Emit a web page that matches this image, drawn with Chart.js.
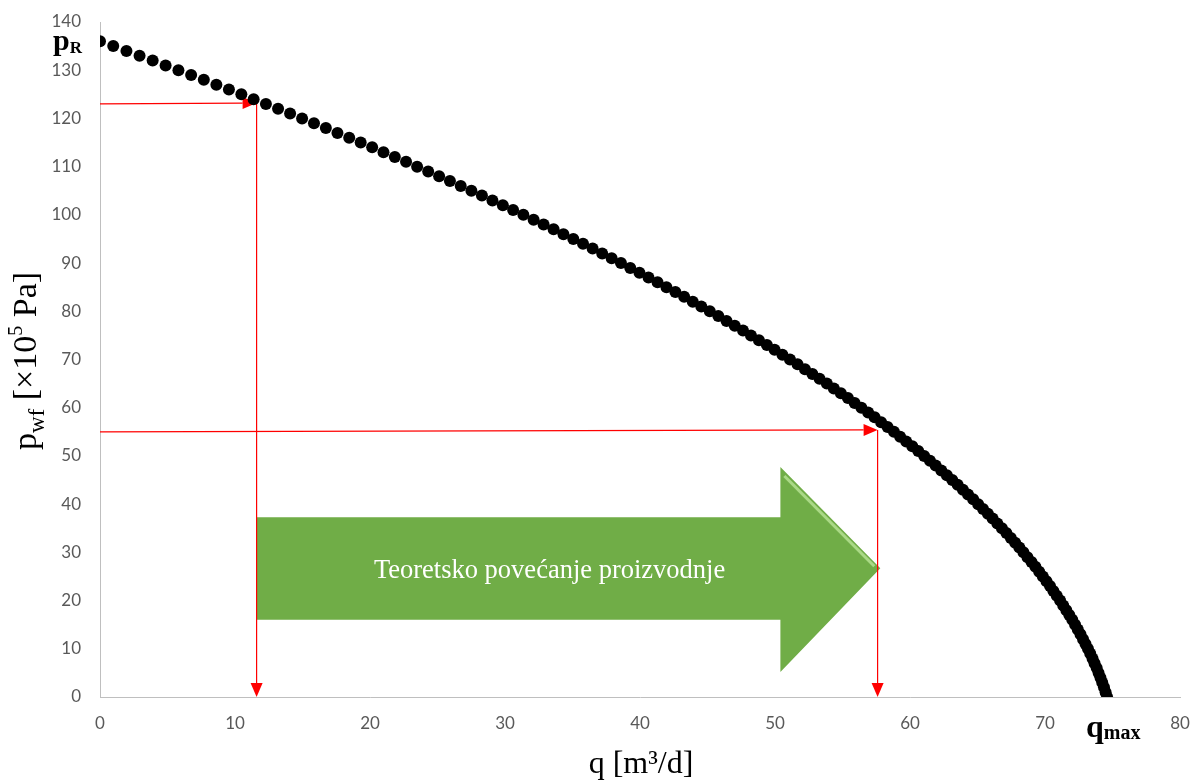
<!DOCTYPE html>
<html>
<head>
<meta charset="utf-8">
<script src="https://cdn.jsdelivr.net/npm/chart.js@4.4.1/dist/chart.umd.min.js"></script>
<style>
  html, body { margin: 0; padding: 0; background: #fff; }
  #wrap { width: 1194px; height: 782px; position: relative; }
</style>
</head>
<body>
<div id="wrap"><canvas id="chart"></canvas></div>
<script>
// bottom-hole flowing pressure p_wf [x10^5 Pa]
const pressures = [
  136,135,134,133,132,131,130,129,128,127,126,125,124,123,122,121,120,119,118,117,
  116,115,114,113,112,111,110,109,108,107,106,105,104,103,102,101,100,99,98,97,
  96,95,94,93,92,91,90,89,88,87,86,85,84,83,82,81,80,79,78,77,
  76,75,74,73,72,71,70,69,68,67,66,65,64,63,62,61,60,59,58,57,
  56,55,54,53,52,51,50,49,48,47,46,45,44,43,42,41,40,39,38,37,
  36,35,34,33,32,31,30,29,28,27,26,25,24,23,22,21,20,19,18,17,
  16,15,14,13,12,11,10,9,8,7,6,5,4,3,2,1,0
];
// production rate q [m3/d]
const rates = [
  0.00,0.98,1.96,2.93,3.90,4.86,5.81,6.75,7.69,8.62,9.55,10.47,11.38,12.29,13.19,14.08,14.97,15.85,16.73,17.59,
  18.46,19.31,20.16,21.00,21.84,22.67,23.49,24.31,25.12,25.92,26.72,27.51,28.29,29.07,29.84,30.60,31.36,32.12,32.86,33.60,
  34.33,35.06,35.78,36.49,37.20,37.90,38.59,39.28,39.96,40.63,41.30,41.96,42.62,43.27,43.91,44.54,45.17,45.80,46.41,47.02,
  47.63,48.22,48.81,49.40,49.97,50.55,51.11,51.67,52.22,52.77,53.30,53.84,54.36,54.88,55.40,55.90,56.40,56.90,57.38,57.86,
  58.34,58.81,59.27,59.72,60.17,60.61,61.05,61.48,61.90,62.32,62.73,63.13,63.53,63.92,64.30,64.68,65.05,65.41,65.77,66.12,
  66.47,66.81,67.14,67.47,67.79,68.10,68.40,68.70,69.00,69.29,69.57,69.84,70.11,70.37,70.62,70.87,71.12,71.35,71.58,71.80,
  72.02,72.23,72.43,72.63,72.82,73.00,73.18,73.35,73.52,73.67,73.83,73.97,74.11,74.24,74.37,74.49,74.60
];

const xRange = [0, 80];
const yRange = [0, 140];
const tickStep = 10;

// red read-off lines: start pressure, end pressure, rate
const readStartP = [123, 55];
const readEndP = [123.2, 55.4];
const readQ = [11.6, 57.6];

// green arrow (data units)
const gainBodyQ = [11.6, 50.4];
const gainBodyP = [16, 37.3];
const gainHeadP = [5.2, 47.7];
const gainTip = [57.8, 26.7];
const gainText = "Teoretsko povećanje proizvodnje";

const serif = "'Liberation Serif', 'Times New Roman', serif";

function drawRich(ctx, parts, x, y, align) {
  let total = 0;
  parts.forEach(p => { ctx.font = p.font; total += ctx.measureText(p.t).width; });
  let cx = align === "center" ? x - total / 2 : x;
  ctx.textAlign = "left";
  ctx.textBaseline = "alphabetic";
  parts.forEach(p => {
    ctx.font = p.font;
    ctx.fillText(p.t, cx, y + (p.dy || 0));
    cx += ctx.measureText(p.t).width;
  });
}

function redArrow(ctx, x1, y1, x2, y2) {
  const ang = Math.atan2(y2 - y1, x2 - x1);
  const len = 14, half = 6;
  ctx.strokeStyle = "#FF0000";
  ctx.fillStyle = "#FF0000";
  ctx.lineWidth = 1.2;
  ctx.beginPath();
  ctx.moveTo(x1, y1);
  ctx.lineTo(x2 - Math.cos(ang) * len, y2 - Math.sin(ang) * len);
  ctx.stroke();
  ctx.beginPath();
  ctx.moveTo(x2, y2);
  ctx.lineTo(x2 - Math.cos(ang) * len - Math.sin(ang) * half, y2 - Math.sin(ang) * len + Math.cos(ang) * half);
  ctx.lineTo(x2 - Math.cos(ang) * len + Math.sin(ang) * half, y2 - Math.sin(ang) * len - Math.cos(ang) * half);
  ctx.closePath();
  ctx.fill();
}

const overlay = {
  id: "overlay",
  beforeDatasetsDraw(chart) {
    const { ctx, scales: { x, y } } = chart;
    ctx.save();

    // green arrow
    const bl = x.getPixelForValue(gainBodyQ[0]), br = x.getPixelForValue(gainBodyQ[1]);
    const bt = y.getPixelForValue(gainBodyP[1]), bb = y.getPixelForValue(gainBodyP[0]);
    const ht = y.getPixelForValue(gainHeadP[1]), hb = y.getPixelForValue(gainHeadP[0]);
    const tx = x.getPixelForValue(gainTip[0]), ty = y.getPixelForValue(gainTip[1]);
    ctx.fillStyle = "#70AD47";
    ctx.beginPath();
    ctx.moveTo(bl, bt);
    ctx.lineTo(br, bt);
    ctx.lineTo(br, ht);
    ctx.lineTo(tx, ty);
    ctx.lineTo(br, hb);
    ctx.lineTo(br, bb);
    ctx.lineTo(bl, bb);
    ctx.closePath();
    ctx.fill();
    // bevel highlight on the upper head edge
    ctx.strokeStyle = "rgba(185,228,150,0.8)";
    ctx.lineWidth = 3;
    ctx.beginPath();
    ctx.moveTo(br + 4, ht + 9);
    ctx.lineTo(tx - 6, ty - 2);
    ctx.stroke();

    ctx.fillStyle = "#FFFFFF";
    ctx.font = "26.5px " + serif;
    ctx.textAlign = "center";
    ctx.textBaseline = "middle";
    ctx.fillText(gainText, x.getPixelForValue(33.3), ty + 3);

    // red read-off arrows
    readQ.forEach((q, i) => {
      const xq = x.getPixelForValue(q);
      redArrow(ctx, x.getPixelForValue(0), y.getPixelForValue(readStartP[i]), xq, y.getPixelForValue(readEndP[i]));
      redArrow(ctx, xq, y.getPixelForValue(readEndP[i]), xq, y.getPixelForValue(0));
    });
    ctx.restore();
  },
  afterDraw(chart) {
    const { ctx } = chart;
    ctx.save();
    ctx.fillStyle = "#000";
    // p_R and q_max labels
    drawRich(ctx, [
      { t: "p", font: "bold 30px " + serif },
      { t: "R", font: "bold 17px " + serif, dy: 3 }
    ], 53, 50, "left");
    drawRich(ctx, [
      { t: "q", font: "bold 32px " + serif },
      { t: "max", font: "bold 20px " + serif, dy: 2 }
    ], 1086, 737, "left");

    // x title
    drawRich(ctx, [{ t: "q [m³/d]", font: "32px " + serif }], 641, 773, "center");

    // y title (rotated)
    ctx.translate(36, 361);
    ctx.rotate(-Math.PI / 2);
    drawRich(ctx, [
      { t: "p", font: "34px " + serif },
      { t: "wf", font: "23px " + serif, dy: 8 },
      { t: " [×10", font: "34px " + serif },
      { t: "5", font: "20px " + serif, dy: -14 },
      { t: " Pa]", font: "34px " + serif }
    ], 0, 0, "center");
    ctx.restore();
  }
};

const tickFont = { family: "Lato, 'Open Sans', sans-serif", size: 17 };

new Chart(document.getElementById("chart"), {
  type: "scatter",
  data: {
    datasets: [{
      data: pressures.map((p, i) => ({ x: rates[i], y: p })),
      backgroundColor: "#000",
      borderColor: "#000",
      borderWidth: 0,
      pointRadius: 6,
      pointHoverRadius: 6,
      showLine: false
    }]
  },
  options: {
    responsive: true,
    maintainAspectRatio: false,
    animation: false,
    events: [],
    layout: { padding: { top: 22, right: 14, left: 0, bottom: 0 } },
    plugins: { legend: { display: false }, tooltip: { enabled: false } },
    scales: {
      x: {
        type: "linear",
        min: xRange[0], max: xRange[1],
        grid: { drawOnChartArea: false, drawTicks: false },
        border: { color: "#BFBFBF", width: 1 },
        ticks: { stepSize: tickStep, color: "#595959", font: tickFont, padding: 16 },
        afterFit: s => { s.height = 85; s.paddingLeft = 0; s.paddingRight = 0; }
      },
      y: {
        type: "linear",
        min: yRange[0], max: yRange[1],
        grid: { drawOnChartArea: false, drawTicks: false },
        border: { color: "#BFBFBF", width: 1 },
        ticks: { stepSize: tickStep, color: "#595959", font: tickFont, padding: 19 },
        afterFit: s => { s.width = 100; s.paddingTop = 0; s.paddingBottom = 0; }
      }
    }
  },
  plugins: [overlay]
});
</script>
</body>
</html>
